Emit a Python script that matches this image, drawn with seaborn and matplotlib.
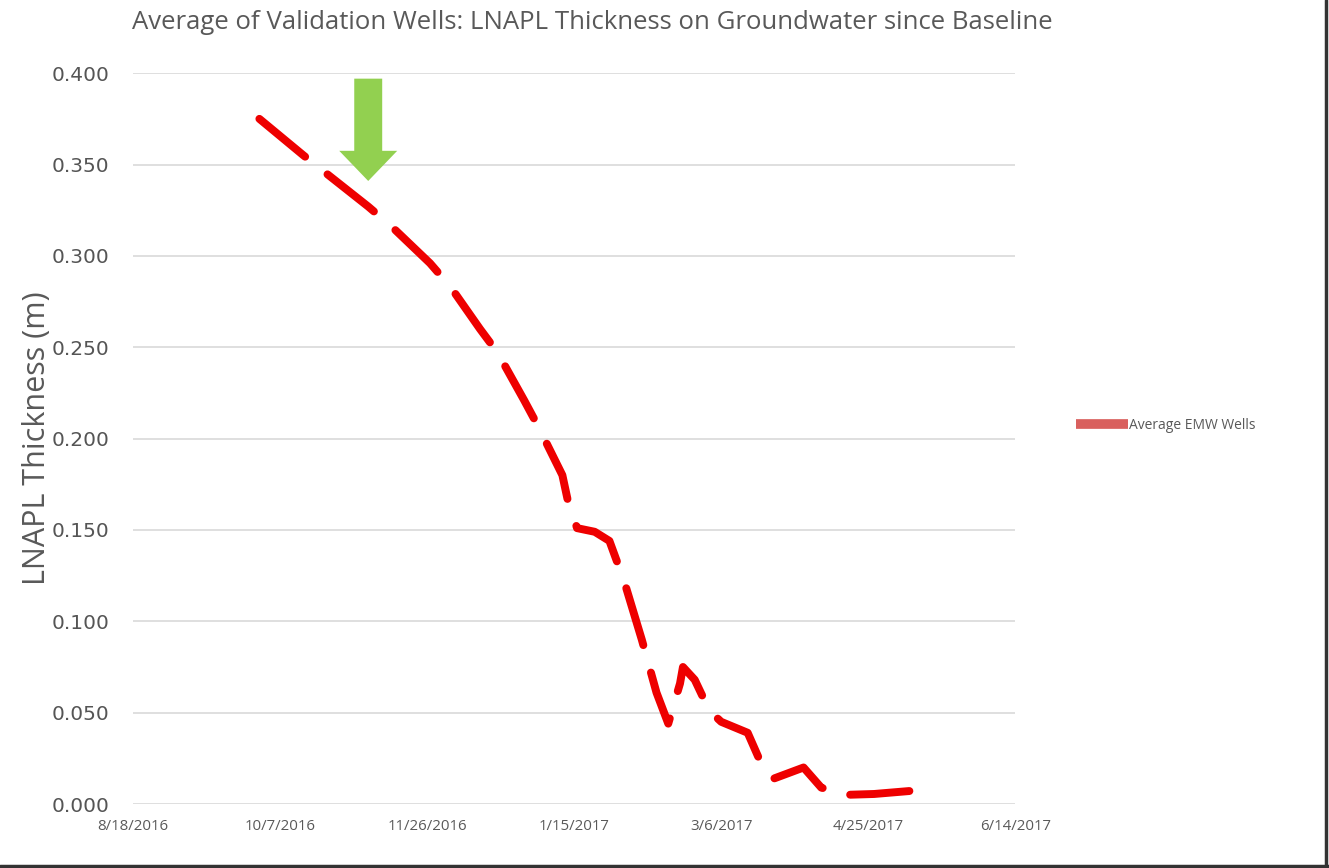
import pandas as pd
import matplotlib
matplotlib.use('Agg')
import matplotlib.pyplot as plt
import matplotlib.dates as mdates
from matplotlib.lines import Line2D
import seaborn as sns

# average LNAPL thickness
dates = ['2016-09-30', '2016-10-15', '2016-11-06', '2016-11-14', '2016-11-27',
         '2016-12-04', '2016-12-14', '2016-12-20', '2016-12-29', '2017-01-03',
         '2017-01-11', '2017-01-13', '2017-01-16', '2017-01-22', '2017-01-27',
         '2017-02-01', '2017-02-04', '2017-02-07', '2017-02-12', '2017-02-16',
         '2017-02-20', '2017-02-21', '2017-02-25', '2017-03-02', '2017-03-06',
         '2017-03-15', '2017-03-21', '2017-03-24', '2017-04-03', '2017-04-09',
         '2017-04-17', '2017-04-27', '2017-05-17']
thickness = [0.375, 0.355, 0.327, 0.316, 0.296,
             0.283, 0.260, 0.247, 0.221, 0.206,
             0.180, 0.165, 0.151, 0.149, 0.144,
             0.122, 0.106, 0.090, 0.061, 0.044,
             0.066, 0.075, 0.068, 0.051, 0.045,
             0.039, 0.017, 0.014, 0.020, 0.009,
             0.005, 0.0055, 0.0082]

tick_dates = ['2016-08-18', '2016-10-07', '2016-11-26', '2017-01-15',
              '2017-03-06', '2017-04-25', '2017-06-14']
tick_labels = ['8/18/2016', '10/7/2016', '11/26/2016', '1/15/2017',
               '3/6/2017', '4/25/2017', '6/14/2017']
y_ticks = [0.0, 0.05, 0.10, 0.15, 0.20, 0.25, 0.30, 0.35, 0.40]

series_name = 'Average EMW Wells'
title = 'Average of Validation Wells: LNAPL Thickness on Groundwater since Baseline'

# green arrow marking the start of treatment
arrow_date = '2016-11-06'
arrow_top = 0.397
arrow_tip = 0.341

df = pd.DataFrame({'date': pd.to_datetime(dates), 'thickness': thickness})

sns.set_style('white')
grey = '#595959'

fig = plt.figure(figsize=(13.29, 8.68), dpi=100)
ax = fig.add_axes([0.100, 0.0737, 0.664, 0.842])

sns.lineplot(data=df, x='date', y='thickness', ax=ax, color='#ee0000',
             linewidth=5.7, legend=False)
line = ax.lines[0]
line.set_dashes((7.5, 3.6))
line.set_dash_capstyle('round')

ax.set_xlim(pd.Timestamp(tick_dates[0]), pd.Timestamp(tick_dates[-1]))
ax.set_ylim(0, 0.40)
ax.set_xticks([mdates.date2num(pd.Timestamp(d)) for d in tick_dates])
ax.set_xticklabels(tick_labels, fontsize=10.8, color=grey, family='Open Sans')
ax.set_yticks(y_ticks)
ax.set_yticklabels([f'{v:.3f}' for v in y_ticks], fontsize=14.5, color='#555555',
                   family='DejaVu Sans')
ax.tick_params(axis='both', length=0)
ax.tick_params(axis='y', pad=17)
ax.tick_params(axis='x', pad=11)
ax.yaxis.grid(True, color='#d9d9d9', linewidth=1.2)
ax.xaxis.grid(False)
for s in ax.spines.values():
    s.set_visible(False)
ax.set_xlabel('')
ax.set_ylabel('LNAPL Thickness (m)', fontsize=22, color=grey, family='Open Sans')
ax.yaxis.set_label_coords(-0.092, 0.5)

ax_date = mdates.date2num(pd.Timestamp(arrow_date))
ax.arrow(ax_date, arrow_top, 0, arrow_tip - arrow_top, width=9.5,
         head_width=19.7, head_length=0.0165, length_includes_head=True,
         color='#92d050', linewidth=0, zorder=3)

fig.text(0.4455, 0.974, title, ha='center', va='center', fontsize=18.5,
         color=grey, family='Open Sans')

handle = Line2D([], [], color='#d9605e', linewidth=7, solid_capstyle='butt')
ax.legend([handle], [series_name], loc='center left',
          bbox_to_anchor=(0.800, 0.51), bbox_transform=fig.transFigure,
          frameon=False, handlelength=3.8, handletextpad=0.05,
          prop={'family': 'Open Sans', 'size': 10}, labelcolor=grey)

# screenshot border on the right and bottom
fig.add_artist(Line2D([0, 1], [0.002, 0.002], color='#333333', lw=2.5,
                      transform=fig.transFigure))
fig.add_artist(Line2D([0.998, 0.998], [0, 1], color='#333333', lw=2.5,
                      transform=fig.transFigure))

fig.savefig('out.png', dpi=100)
